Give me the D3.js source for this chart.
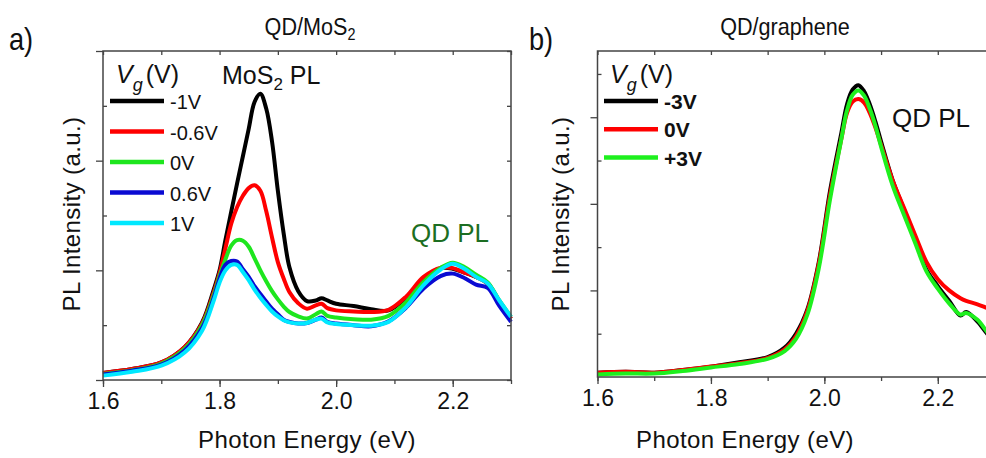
<!DOCTYPE html>
<html>
<head>
<meta charset="utf-8">
<script src="https://cdn.jsdelivr.net/npm/d3@7"></script>
<style>
  body { margin: 0; background: #fff; }
  svg { display: block; font-family: "Liberation Sans", Arial, sans-serif; }
</style>
</head>
<body>
<div id="chart"></div>
<script>
// --- data (energy in eV, PL in arbitrary units) ---

// panel a: QD/MoS2, gate voltage series
const energyA = [1.60, 1.65, 1.70, 1.74, 1.77, 1.79, 1.80, 1.81, 1.82, 1.83, 1.84, 1.85, 1.86, 1.87, 1.88, 1.89,
                 1.90, 1.91, 1.92, 1.935, 1.95, 1.965, 1.975, 1.985, 2.00, 2.03, 2.06, 2.09, 2.12, 2.15, 2.18,
                 2.20, 2.22, 2.24, 2.26, 2.28, 2.30];
const vgLabelsA = ["-1V", "-0.6V", "0V", "0.6V", "1V"];
const plMinus1 = [0.13, 0.20, 0.32, 0.60, 1.05, 1.65, 2.00, 2.55, 3.07, 3.58, 4.08, 4.58, 5.07, 5.22, 4.95, 4.35,
                  3.45, 2.67, 2.05, 1.62, 1.44, 1.45, 1.49, 1.45, 1.39, 1.35, 1.29, 1.27, 1.50, 1.86, 2.04,
                  2.03, 1.96, 1.88, 1.76, 1.43, 1.12];
const plMinus06 = [0.13, 0.20, 0.32, 0.60, 1.03, 1.60, 1.95, 2.40, 2.85, 3.15, 3.36, 3.50, 3.55, 3.45, 3.08, 2.60,
                   2.15, 1.85, 1.60, 1.40, 1.30, 1.36, 1.39, 1.31, 1.27, 1.25, 1.24, 1.28, 1.52, 1.88, 2.05,
                   2.04, 1.96, 1.88, 1.76, 1.43, 1.12];
const plZero = [0.11, 0.18, 0.30, 0.57, 1.00, 1.55, 1.90, 2.20, 2.45, 2.55, 2.54, 2.43, 2.22, 2.00, 1.80, 1.62,
                1.47, 1.34, 1.24, 1.16, 1.12, 1.20, 1.25, 1.17, 1.14, 1.11, 1.10, 1.17, 1.42, 1.79, 2.05,
                2.14, 2.06, 1.92, 1.78, 1.45, 1.15];
const plPlus06 = [0.10, 0.17, 0.28, 0.54, 0.95, 1.50, 1.85, 2.10, 2.17, 2.16, 2.02, 1.88, 1.71, 1.57, 1.43, 1.30,
                  1.20, 1.10, 1.06, 1.03, 1.04, 1.10, 1.14, 1.06, 1.03, 1.00, 0.98, 1.07, 1.32, 1.67, 1.90,
                  1.94, 1.86, 1.74, 1.68, 1.35, 1.06];
const plPlus1 = [0.08, 0.15, 0.26, 0.50, 0.90, 1.45, 1.78, 2.00, 2.10, 2.10, 1.97, 1.82, 1.65, 1.50, 1.37, 1.25,
                 1.16, 1.09, 1.05, 1.03, 1.04, 1.10, 1.12, 1.05, 1.02, 1.00, 0.99, 1.06, 1.33, 1.73, 2.02,
                 2.12, 2.03, 1.88, 1.76, 1.45, 1.15];

// panel b: QD/graphene
const energyB = [1.60, 1.65, 1.70, 1.75, 1.80, 1.85, 1.90, 1.93, 1.95, 1.97, 1.99, 2.01, 2.03, 2.04, 2.05, 2.06,
                 2.07, 2.08, 2.09, 2.10, 2.12, 2.14, 2.16, 2.18, 2.20, 2.22, 2.24, 2.25, 2.27, 2.29, 2.30];
const vgLabelsB = ["-3V", "0V", "+3V"];
const plMinus3 = [0.05, 0.06, 0.05, 0.08, 0.12, 0.17, 0.23, 0.34, 0.50, 0.78, 1.32, 2.15, 2.82, 3.15, 3.32, 3.37,
                  3.30, 3.15, 2.95, 2.72, 2.28, 1.94, 1.60, 1.24, 1.05, 0.88, 0.71, 0.75, 0.64, 0.48, 0.44];
const plZeroB = [0.05, 0.06, 0.05, 0.08, 0.12, 0.16, 0.22, 0.32, 0.47, 0.76, 1.30, 2.10, 2.75, 3.05, 3.18, 3.21,
                 3.17, 3.05, 2.88, 2.68, 2.28, 1.96, 1.64, 1.33, 1.13, 1.00, 0.91, 0.88, 0.84, 0.79, 0.77];
const plPlus3 = [0.03, 0.04, 0.04, 0.07, 0.11, 0.15, 0.21, 0.30, 0.44, 0.72, 1.25, 2.05, 2.75, 3.08, 3.26, 3.31,
                 3.25, 3.10, 2.90, 2.66, 2.22, 1.88, 1.55, 1.22, 1.02, 0.85, 0.72, 0.74, 0.66, 0.50, 0.46];

const xTicks = [1.6, 1.8, 2.0, 2.2];

// --- layout ---
const width = 986, height = 458;
const axisColor = "#444";
const colorsA = ["#000000", "#ff0000", "#1ee61e", "#0a0ad2", "#00e8ff"];
const colorsB = ["#000000", "#ff0000", "#1ef01e"];

const svg = d3.select("#chart").append("svg")
    .attr("width", width)
    .attr("height", height)
    .attr("viewBox", [0, 0, width, height]);

function drawFrame(x, y, yMajor, yMinor, rightBorder) {
    const [x0, x1] = x.range();
    const [y0, y1] = y.range();
    const minorX = d3.range(16, 24).map(d => d / 10);
    const g = svg.append("g");

    // bottom: major + minor ticks outward
    g.append("g").attr("transform", `translate(0,${y0})`)
        .call(d3.axisBottom(x).tickValues(minorX).tickSize(4).tickFormat(""));
    g.append("g").attr("transform", `translate(0,${y0})`)
        .call(d3.axisBottom(x).tickValues(xTicks).tickSize(7).tickPadding(6).tickFormat(d3.format(".1f")))
        .call(a => a.selectAll("text").attr("font-size", 23).attr("fill", "#111")
            .attr("font-family", "Liberation Sans, Arial, sans-serif"));
    // top: inward ticks
    g.append("g").attr("transform", `translate(0,${y1})`)
        .call(d3.axisTop(x).tickValues(minorX).tickSize(-4).tickFormat(""));
    // left: majors outward, minors inward
    g.append("g").attr("transform", `translate(${x0},0)`)
        .call(d3.axisLeft(y).tickValues(yMajor).tickSize(7).tickFormat(""));
    g.append("g").attr("transform", `translate(${x0},0)`)
        .call(d3.axisLeft(y).tickValues(yMinor).tickSize(-4).tickFormat(""));
    if (rightBorder) {
        g.append("g").attr("transform", `translate(${x1},0)`)
            .call(d3.axisRight(y).tickValues(yMajor.concat(yMinor)).tickSize(-4).tickFormat(""));
    }
    g.selectAll(".domain").remove();
    g.selectAll(".tick line").attr("stroke", axisColor).attr("stroke-width", 1.3);

    // frame
    g.append("path")
        .attr("d", rightBorder
            ? `M${x0},${y0}V${y1}H${x1}V${y0}Z`
            : `M${x1},${y0}H${x0}V${y1}H${x1}`)
        .attr("fill", "none")
        .attr("stroke", axisColor)
        .attr("stroke-width", 1.5);
}

function drawLines(x, y, energy, series, colors) {
    const line = d3.line()
        .x((d, i) => x(energy[i]))
        .y(d => y(d))
        .curve(d3.curveCatmullRom.alpha(0.5));
    svg.append("g").selectAll("path")
        .data(series)
        .join("path")
        .attr("d", d => line(d))
        .attr("fill", "none")
        .attr("stroke", (d, i) => colors[i])
        .attr("stroke-width", 4)
        .attr("stroke-linejoin", "round");
}

function drawLegend(x0, yTop, labels, colors, bold, gap, fontSize) {
    const g = svg.append("g");
    const vg = g.append("text").attr("x", x0).attr("y", yTop).attr("font-size", 25).attr("fill", "#111");
    vg.append("tspan").attr("font-style", "italic").text("V");
    vg.append("tspan").attr("font-style", "italic").attr("font-size", 18).attr("dy", 8).text("g");
    vg.append("tspan").attr("dy", -8).attr("dx", 3).text("(V)");
    labels.forEach((lab, i) => {
        const ly = yTop + 18 + i * gap;
        g.append("line")
            .attr("x1", x0 - 6).attr("x2", x0 + 48)
            .attr("y1", ly).attr("y2", ly)
            .attr("stroke", colors[i]).attr("stroke-width", 4.5);
        g.append("text")
            .attr("x", x0 + 54).attr("y", ly + 8)
            .attr("font-size", fontSize)
            .attr("font-weight", bold ? "bold" : "normal")
            .attr("fill", "#111")
            .text(lab);
    });
}

// --- panel a ---
const xA = d3.scaleLinear().domain([1.6, 2.3]).range([103, 511]);
const yA = d3.scaleLinear().domain([0, 6]).range([380, 51]);
drawLines(xA, yA, energyA, [plMinus1, plMinus06, plZero, plPlus06, plPlus1], colorsA);
drawFrame(xA, yA, [0, 2, 4, 6], [1, 3, 5], true);
drawLegend(116, 83, vgLabelsA, colorsA, false, 30.5, 20);

const mos = svg.append("text").attr("x", 222).attr("y", 84).attr("font-size", 25).attr("fill", "#111");
mos.append("tspan").text("MoS");
mos.append("tspan").attr("font-size", 17).attr("dy", 6).text("2");
mos.append("tspan").attr("dy", -6).text(" PL");

svg.append("text").attr("x", 411).attr("y", 242).attr("font-size", 26).attr("fill", "#1c6e22").text("QD PL");

// --- panel b ---
const xB = d3.scaleLinear().domain([1.6, 2.3]).range([597.5, 994.5]);
const yB = d3.scaleLinear().domain([0, 3.765]).range([377, 51]);
drawLines(xB, yB, energyB, [plMinus3, plZeroB, plPlus3], colorsB);
drawFrame(xB, yB, [1, 2, 3], [0.5, 1.5, 2.5, 3.5], false);
drawLegend(610, 83, vgLabelsB, colorsB, true, 28.3, 21);

svg.append("text").attr("x", 892).attr("y", 127).attr("font-size", 26).attr("fill", "#111").text("QD PL");

// --- titles and axis labels ---
svg.append("text").attr("transform", "translate(9,50) scale(0.85,1)")
    .attr("font-size", 32).attr("fill", "#111").text("a)");
svg.append("text").attr("transform", "translate(529,50) scale(0.85,1)")
    .attr("font-size", 32).attr("fill", "#111").text("b)");

const tA = svg.append("text").attr("transform", "translate(310,35) scale(0.9,1)")
    .attr("text-anchor", "middle").attr("font-size", 24).attr("fill", "#111");
tA.append("tspan").text("QD/MoS");
tA.append("tspan").attr("font-size", 16).attr("dy", 5).text("2");
svg.append("text").attr("transform", "translate(785,35) scale(0.9,1)")
    .attr("text-anchor", "middle").attr("font-size", 24).attr("fill", "#111").text("QD/graphene");

[[307, 448], [745, 448]].forEach(([cx, cy]) => {
    svg.append("text").attr("x", cx).attr("y", cy).attr("text-anchor", "middle")
        .attr("font-size", 24).attr("letter-spacing", 0.4).attr("fill", "#111").text("Photon Energy (eV)");
});
[[80, 214], [569, 214]].forEach(([cx, cy]) => {
    svg.append("text").attr("transform", `translate(${cx},${cy}) rotate(-90)`)
        .attr("text-anchor", "middle")
        .attr("font-size", 24).attr("letter-spacing", 0.4).attr("fill", "#111").text("PL Intensity (a.u.)");
});
</script>
</body>
</html>
